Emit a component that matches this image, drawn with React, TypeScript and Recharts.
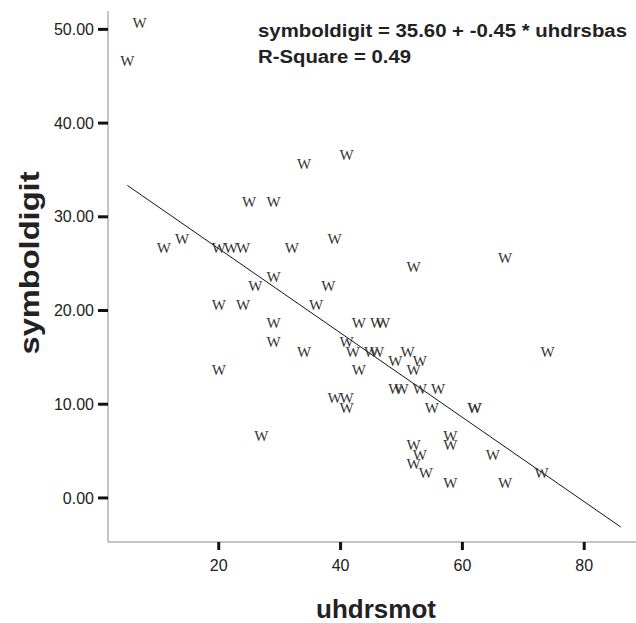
import React from "react";
import { ScatterChart, Scatter, XAxis, YAxis, ReferenceLine } from "recharts";

// uhdrsmot (x) and symboldigit (y) for each case
const uhdrsmot = [
  7, 5, 34, 41, 25, 29, 11, 14, 20, 22, 24, 32, 39, 29, 26, 38, 20, 24, 36, 29,
  29, 34, 43, 46, 47, 41, 42, 45, 46, 20, 43, 49, 51, 53, 52, 49, 50, 53, 56, 39,
  41, 41, 55, 62, 62, 27, 58, 58, 52, 53, 52, 54, 58, 67, 65, 73, 74, 67, 52,
];
const symboldigit = [
  51, 47, 36, 37, 32, 32, 27, 28, 27, 27, 27, 27, 28, 24, 23, 23, 21, 21, 21, 19,
  17, 16, 19, 19, 19, 17, 16, 16, 16, 14, 14, 15, 16, 15, 14, 12, 12, 12, 12, 11,
  11, 10, 10, 10, 10, 7, 7, 6, 6, 5, 4, 3, 2, 2, 5, 3, 16, 26, 25,
];

// fit line end points (symboldigit = 35.60 + -0.45 * uhdrsbas)
const fitStart = { x: 5, y: 33.35 };
const fitEnd = { x: 86, y: -3.1 };

const xTicks = [20, 40, 60, 80];
const yTicks = [0, 10, 20, 30, 40, 50];

const points = uhdrsmot.map((x, i) => ({ x, y: symboldigit[i] }));

const SANS = "'Liberation Sans', Arial, sans-serif";
const AXIS_GRAY = "#8a8a8a";
const TICK_TEXT = { fill: "#222", fontSize: 16, fontFamily: SANS };

const WMarker = (props: any) => {
  const { cx, cy } = props;
  if (cx == null || cy == null) return null;
  return (
    <text
      x={cx}
      y={cy + 8.5}
      textAnchor="middle"
      fontFamily="'Liberation Serif', 'Times New Roman', serif"
      fontSize={15}
      fill="#333"
    >
      W
    </text>
  );
};

export default function App() {
  return (
    <div style={{ position: "absolute", left: 0, top: 0, width: 636, height: 623, background: "#fff" }}>
      <ScatterChart width={636} height={623} margin={{ top: 11, right: 0, left: 0, bottom: 0 }}>
        <XAxis
          type="number"
          dataKey="x"
          domain={[1.82, 88.5]}
          allowDataOverflow
          ticks={xTicks}
          height={81}
          axisLine={{ stroke: AXIS_GRAY }}
          tickLine={{ stroke: "#111", strokeWidth: 3 }}
          tickSize={8}
          tickMargin={10}
          tick={TICK_TEXT}
        />
        <XAxis
          xAxisId="top"
          orientation="top"
          type="number"
          dataKey="x"
          domain={[1.82, 88.5]}
          allowDataOverflow
          height={0}
          tick={false}
          tickLine={false}
          axisLine={{ stroke: "#aaa" }}
        />
        <YAxis
          type="number"
          dataKey="y"
          domain={[-4.7, 51.96]}
          allowDataOverflow
          ticks={yTicks}
          width={108}
          axisLine={{ stroke: AXIS_GRAY }}
          tickLine={{ stroke: "#111", strokeWidth: 3 }}
          tickSize={10}
          tickMargin={4}
          tick={TICK_TEXT}
          tickFormatter={(v: number) => v.toFixed(2)}
        />
        <ReferenceLine
          segment={[fitStart, fitEnd]}
          stroke="#111"
          strokeWidth={1}
          ifOverflow="visible"
        />
        <Scatter data={points} shape={WMarker} isAnimationActive={false} />
      </ScatterChart>
      <svg
        width={636}
        height={623}
        style={{ position: "absolute", left: 0, top: 0, pointerEvents: "none" }}
      >
        <g fontFamily={SANS} fontWeight="bold" fill="#222">
          <text x={258} y={37} fontSize={17.5} textLength={369} lengthAdjust="spacingAndGlyphs">
            symboldigit = 35.60 + -0.45 * uhdrsbas
          </text>
          <text x={258} y={63} fontSize={17.5} textLength={153} lengthAdjust="spacingAndGlyphs">
            R-Square = 0.49
          </text>
          <text x={376} y={618} fontSize={26} textAnchor="middle">
            uhdrsmot
          </text>
          <text
            x={39}
            y={263}
            fontSize={28}
            textAnchor="middle"
            textLength={183}
            lengthAdjust="spacingAndGlyphs"
            transform="rotate(-90 39 263)"
          >
            symboldigit
          </text>
        </g>
      </svg>
    </div>
  );
}
